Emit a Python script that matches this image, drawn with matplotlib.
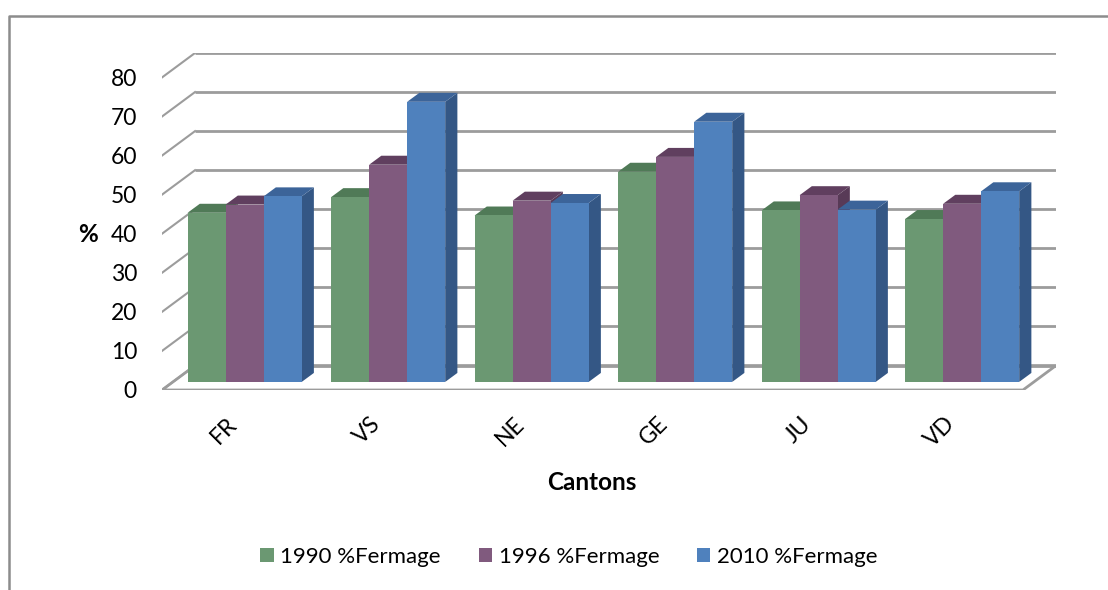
import matplotlib
matplotlib.use("Agg")
import matplotlib.pyplot as plt
from matplotlib.patches import Polygon, Patch
from matplotlib.lines import Line2D

plt.rcParams['font.family'] = ['Lato', 'DejaVu Sans']

# Share of leased farmland per canton
cantons = ["FR", "VS", "NE", "GE", "JU", "VD"]
fermage_1990 = [43.3, 47.3, 42.6, 53.8, 43.9, 41.7]
fermage_1996 = [45.4, 55.6, 46.4, 57.6, 47.8, 45.6]
fermage_2010 = [47.5, 71.7, 45.8, 66.6, 44.1, 48.8]
series_labels = ["1990 %Fermage", "1996 %Fermage", "2010 %Fermage"]
y_ticks = [0, 10, 20, 30, 40, 50, 60, 70, 80]

# front / top / side shades for each series
front_colors = ["#6b9872", "#805a7e", "#4f81bd"]
top_colors = ["#507a57", "#603f5f", "#3c6499"]
side_colors = ["#4a6f50", "#583a57", "#345785"]

# fake 3d geometry (category units, value units)
DX, DY = 0.23, 6.26       # floor depth offset
F0 = 0.33                 # where the bars stand inside the floor
BDX, BDY = 0.085, 2.3     # bar depth
W = 0.265                 # bar width
GRID = "#9c9c9c"

fig = plt.figure(figsize=(11.08, 5.9), dpi=100)
ax = fig.add_axes([162 / 1108, 200 / 590, 894 / 1108, 337 / 590])
ax.set_xlim(-0.5, 5.5 + DX)
ax.set_ylim(0, 80 + DY)
for s in ax.spines.values():
    s.set_visible(False)

# floor
ax.add_patch(Polygon([(-0.5, 0), (5.5, 0), (5.5 + DX, DY), (-0.5 + DX, DY)],
                     closed=True, facecolor="white", edgecolor=GRID, lw=2, zorder=1))

# back wall gridlines and left diagonals
for v in y_ticks:
    ax.plot([-0.5 + DX, 5.5 + DX], [v + DY, v + DY], color=GRID, lw=2, zorder=1.5,
            solid_capstyle="butt")
    ax.plot([-0.5, -0.5 + DX], [v, v + DY], color=GRID, lw=1.5, zorder=1.5)

# bars, drawn left to right so neighbours hide each side face
series = [fermage_1990, fermage_1996, fermage_2010]
z = 3.0
for i in range(len(cantons)):
    for k, vals in enumerate(series):
        val = vals[i]
        x0 = i - 1.5 * W + k * W + F0 * DX
        b = F0 * DY
        t = val + b
        ax.add_patch(Polygon([(x0 + W, b), (x0 + W + BDX, b + BDY),
                              (x0 + W + BDX, t + BDY), (x0 + W, t)],
                             closed=True, facecolor=side_colors[k], edgecolor="none", zorder=z))
        ax.add_patch(Polygon([(x0, t), (x0 + W, t), (x0 + W + BDX, t + BDY), (x0 + BDX, t + BDY)],
                             closed=True, facecolor=top_colors[k], edgecolor="none", zorder=z))
        ax.bar(x0, val, width=W, bottom=b, align="edge", color=front_colors[k],
               edgecolor="none", zorder=z)
        z += 0.01

# axes text
ax.set_yticks(y_ticks)
ax.set_yticklabels([str(v) for v in y_ticks], fontsize=16.5)
ax.tick_params(axis="y", length=0, pad=18)
ax.set_xticks(range(len(cantons)))
ax.set_xticklabels(cantons, fontsize=16.5, rotation=45, ha="right", va="center",
                   rotation_mode="anchor")
ax.tick_params(axis="x", length=0, pad=22)

ax.set_ylabel("%", rotation=0, fontsize=17.5, fontweight="bold", va="center", ha="center")
ax.yaxis.set_label_coords((88 - 162) / 894, (390 - 235) / 337)
ax.set_xlabel("Cantons", fontsize=17.5, fontweight="bold", va="center")
ax.xaxis.set_label_coords((592 - 162) / 894, (390 - 482) / 337)

handles = [Patch(facecolor=c, edgecolor="none") for c in front_colors]
fig.legend(handles, series_labels, loc="center", bbox_to_anchor=(569 / 1108, 1 - 557 / 590),
           ncol=3, frameon=False, fontsize=16, handlelength=0.6, handleheight=0.6,
           handletextpad=0.3, columnspacing=1.7)

# chart border
fig.add_artist(Line2D([8.5 / 1108, 8.5 / 1108, 1.0], [0.0, 1 - 16 / 590, 1 - 16 / 590],
                      color="#8c8c8c", lw=1.8, transform=fig.transFigure))

fig.savefig("out.png", dpi=100)
